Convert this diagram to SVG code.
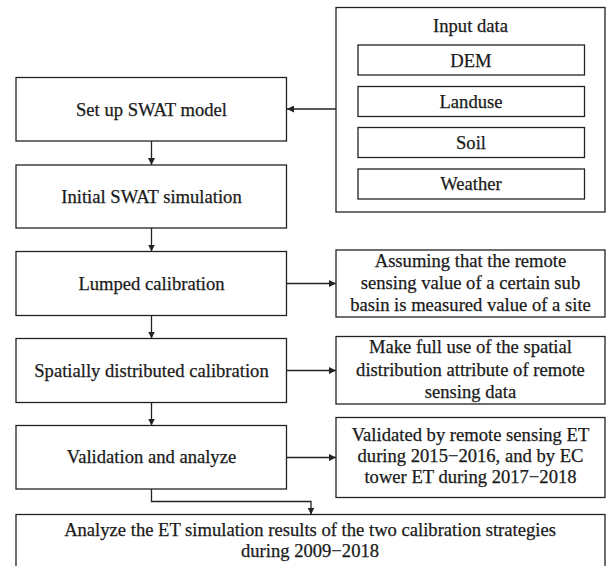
<svg xmlns="http://www.w3.org/2000/svg" width="607" height="566" viewBox="0 0 607 566">
<defs>
<style>
rect{fill:#fff;stroke:#222;stroke-width:1.3}
text{font-family:"Liberation Serif","DejaVu Serif",Times,serif;font-size:18.6px;fill:#1a1a1a;stroke:#1a1a1a;stroke-width:0.25;text-anchor:middle}
.c{fill:none;stroke:#222;stroke-width:1.3}
</style>
<marker id="ah" viewBox="0 0 10 10" refX="10" refY="5" markerWidth="7" markerHeight="7" markerUnits="userSpaceOnUse" orient="auto">
<path d="M0,0 L10,5 L0,10 Z" fill="#222"/>
</marker>
</defs>
<rect x="0" y="0" width="607" height="566" style="fill:#fff;stroke:none"/>
<g id="input">
<rect x="336" y="7.5" width="269" height="204.5"/>
<text x="470.5" y="32">Input data</text>
</g>
<g id="dem"><rect x="358" y="45" width="226.5" height="30"/><text x="471" y="66.5">DEM</text></g>
<g id="landuse"><rect x="358" y="86.5" width="226.5" height="30"/><text x="471" y="107.5">Landuse</text></g>
<g id="soil"><rect x="358" y="127.5" width="226.5" height="30"/><text x="471" y="148.5">Soil</text></g>
<g id="weather"><rect x="358" y="169" width="226.5" height="30"/><text x="471" y="189.5">Weather</text></g>
<g id="setup"><rect x="16" y="77.5" width="270.5" height="63.5"/><text x="151.5" y="116">Set up SWAT model</text></g>
<g id="initial"><rect x="16" y="165" width="270.5" height="63"/><text x="151.5" y="203">Initial SWAT simulation</text></g>
<g id="lumped"><rect x="16" y="251.5" width="270.5" height="64"/><text x="151.5" y="290">Lumped calibration</text></g>
<g id="spatial"><rect x="16" y="338.5" width="270.5" height="64"/><text x="151.5" y="377">Spatially distributed calibration</text></g>
<g id="validation"><rect x="16" y="425.5" width="270.5" height="63.5"/><text x="151.5" y="463">Validation and analyze</text></g>
<g id="assume"><rect x="336" y="250" width="269" height="67"/>
<text x="470.5" y="267">Assuming that the remote</text>
<text x="470.5" y="289">sensing value of a certain sub</text>
<text x="470.5" y="310.5">basin is measured value of a site</text></g>
<g id="makefull"><rect x="336" y="336.5" width="269" height="67.5"/>
<text x="470.5" y="353">Make full use of the spatial</text>
<text x="470.5" y="376">distribution attribute of remote</text>
<text x="470.5" y="398">sensing data</text></g>
<g id="validated"><rect x="336" y="417.5" width="269" height="80"/>
<text x="470.5" y="441">Validated by remote sensing ET</text>
<text x="470.5" y="462">during 2015−2016, and by EC</text>
<text x="470.5" y="483">tower ET during 2017−2018</text></g>
<g id="analyze"><rect x="16" y="514.5" width="589" height="60"/>
<text x="310" y="535.5">Analyze the ET simulation results of the two calibration strategies</text>
<text x="310" y="557">during 2009−2018</text></g>
<g id="connectors">
<path class="c" d="M336,109 H287" marker-end="url(#ah)"/>
<path class="c" d="M151.5,141 V165" marker-end="url(#ah)"/>
<path class="c" d="M151.5,228 V251.5" marker-end="url(#ah)"/>
<path class="c" d="M151.5,315.5 V338.5" marker-end="url(#ah)"/>
<path class="c" d="M151.5,402.5 V425.5" marker-end="url(#ah)"/>
<path class="c" d="M286.5,283.5 H336" marker-end="url(#ah)"/>
<path class="c" d="M286.5,370.5 H336" marker-end="url(#ah)"/>
<path class="c" d="M286.5,457.5 H336" marker-end="url(#ah)"/>
<path class="c" d="M151.5,489 V501.5 H311 V514.5" marker-end="url(#ah)"/>
</g>
</svg>
